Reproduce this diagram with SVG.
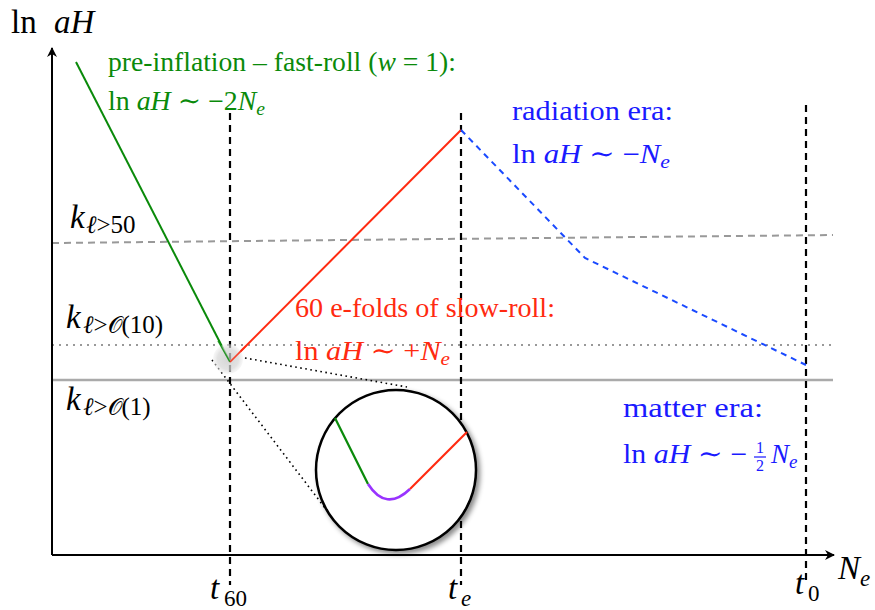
<svg xmlns="http://www.w3.org/2000/svg" width="875" height="610" viewBox="0 0 875 610">
<style>
text{font-family:"Liberation Serif","DejaVu Serif",serif;}
.big{font-size:33px;fill:#000;}
.lbl{font-size:27px;}
.g{fill:#0a8a0a;}
.r{fill:#ff2a10;}
.b{fill:#1a1aff;}
.it{font-style:italic;}
.sim{font-family:"DejaVu Serif",serif;}
.vd{stroke:#000;stroke-width:2.2;stroke-dasharray:7,5;fill:none;}
</style>
<defs>
<marker id="arr" viewBox="0 0 10 10" refX="9" refY="5" markerWidth="10" markerHeight="10" markerUnits="userSpaceOnUse" orient="auto">
<path d="M0,0 L10,5 L0,10 L3,5 Z" fill="#000"/>
</marker>
<radialGradient id="glow">
<stop offset="0" stop-color="#c8c8c8"/>
<stop offset="0.7" stop-color="#d8d8d8"/>
<stop offset="1" stop-color="#eeeeee" stop-opacity="0.6"/>
</radialGradient>
<filter id="shadow" x="-20%" y="-20%" width="150%" height="150%">
<feDropShadow dx="3" dy="3" stdDeviation="2.5" flood-color="#000" flood-opacity="0.45"/>
</filter>
</defs>

<g id="levels">
<line x1="52" y1="243" x2="833" y2="235" stroke="#999" stroke-width="2" stroke-dasharray="7,5"/>
<line x1="52" y1="345" x2="833" y2="345" stroke="#999" stroke-width="2" stroke-dasharray="2,5"/>
<line x1="52" y1="380" x2="833" y2="380" stroke="#aaa" stroke-width="2.5"/>
</g>

<g id="verticals">
<line class="vd" x1="230" y1="113" x2="230" y2="585"/>
<line class="vd" x1="461" y1="113" x2="461" y2="585"/>
<line class="vd" x1="806" y1="105" x2="806" y2="585"/>
</g>

<g id="axes">
<line x1="52" y1="555" x2="52" y2="48" stroke="#000" stroke-width="2" marker-end="url(#arr)"/>
<line x1="52" y1="555" x2="834" y2="555" stroke="#000" stroke-width="2" marker-end="url(#arr)"/>
</g>

<g id="connectors">
<line x1="76" y1="62" x2="230" y2="362" stroke="#0a8a0a" stroke-width="2"/>
<line x1="230" y1="362" x2="461" y2="130" stroke="#ff2a10" stroke-width="2"/>
<polyline points="461,130 585,258 806,365" fill="none" stroke="#1a4aff" stroke-width="2" stroke-dasharray="6,5"/>
<line x1="245" y1="358" x2="407" y2="387" stroke="#000" stroke-width="1.6" stroke-dasharray="1.6,3.5"/>
<line x1="212" y1="360" x2="325" y2="508" stroke="#000" stroke-width="1.6" stroke-dasharray="1.6,3.5"/>
</g>

<g id="zoom-spot">
<circle cx="228" cy="359" r="15" fill="url(#glow)" opacity="0.75"/>
<line x1="218" y1="341" x2="230" y2="362" stroke="#0a8a0a" stroke-width="1.5" opacity="0.8"/>
<line x1="230" y1="362" x2="246" y2="346" stroke="#ff2a10" stroke-width="1.5" opacity="0.8"/>
</g>

<g id="inset">
<circle cx="396" cy="470" r="80" fill="#fff" stroke="#000" stroke-width="2.5" filter="url(#shadow)"/>
<line x1="335" y1="418" x2="368" y2="484" stroke="#0a8a0a" stroke-width="2.2"/>
<path d="M368,484 Q386,512 410,489" fill="none" stroke="#9933ff" stroke-width="2.6"/>
<line x1="410" y1="489" x2="467" y2="432" stroke="#ff2a10" stroke-width="2.2"/>
</g>

<g id="axis-labels">
<text class="big" x="11" y="33">ln<tspan class="it" x="54">aH</tspan></text>
<text class="big it" x="838" y="579">N<tspan dy="7" font-size="23">e</tspan></text>
<text class="big" x="210" y="599"><tspan class="it">t</tspan><tspan x="224" dy="7" font-size="23">60</tspan></text>
<text class="big" x="448" y="599"><tspan class="it">t</tspan><tspan class="it" x="461" dy="7" font-size="23">e</tspan></text>
<text class="big" x="795" y="594"><tspan class="it">t</tspan><tspan x="808" dy="7" font-size="23">0</tspan></text>
</g>

<g id="k-labels">
<text class="big" x="70" y="228"><tspan class="it">k</tspan><tspan x="86" dy="5" font-size="25"><tspan class="it">ℓ</tspan>&gt;50</tspan></text>
<text class="big" x="66" y="328"><tspan class="it">k</tspan><tspan x="83" dy="5" font-size="25"><tspan class="it">ℓ</tspan>&gt;<tspan font-family="DejaVu Sans" font-size="23">𝒪</tspan>(10)</tspan></text>
<text class="big" x="66" y="410"><tspan class="it">k</tspan><tspan x="83" dy="5" font-size="25"><tspan class="it">ℓ</tspan>&gt;<tspan font-family="DejaVu Sans" font-size="23">𝒪</tspan>(1)</tspan></text>
</g>

<g id="preinflation">
<text class="lbl g" x="108" y="71" textLength="348" lengthAdjust="spacingAndGlyphs">pre-inflation – fast-roll (<tspan class="it">w</tspan> = 1):</text>
<text class="lbl g" x="108" y="110" textLength="157" lengthAdjust="spacingAndGlyphs">ln <tspan class="it">aH</tspan> <tspan class="sim">∼</tspan> −2<tspan class="it">N</tspan><tspan class="it" dy="5" font-size="19">e</tspan></text>
</g>

<g id="radiation">
<text class="lbl b" x="512" y="120" textLength="161" lengthAdjust="spacingAndGlyphs">radiation era:</text>
<text class="lbl b" x="512" y="163" textLength="158" lengthAdjust="spacingAndGlyphs">ln <tspan class="it">aH</tspan> <tspan class="sim">∼</tspan> −<tspan class="it">N</tspan><tspan class="it" dy="5" font-size="19">e</tspan></text>
</g>

<g id="slowroll">
<text class="lbl r" x="295" y="317" textLength="260" lengthAdjust="spacingAndGlyphs">60 e-folds of slow-roll:</text>
<text class="lbl r" x="295" y="360" textLength="155" lengthAdjust="spacingAndGlyphs">ln <tspan class="it">aH</tspan> <tspan class="sim">∼</tspan> +<tspan class="it">N</tspan><tspan class="it" dy="5" font-size="19">e</tspan></text>
</g>

<g id="matter">
<text class="lbl b" x="623" y="417" textLength="140" lengthAdjust="spacingAndGlyphs">matter era:</text>
<text class="lbl b" x="623" y="463" textLength="124" lengthAdjust="spacingAndGlyphs">ln <tspan class="it">aH</tspan> <tspan class="sim">∼</tspan> −</text>
<text class="b" x="760" y="453" font-size="16" text-anchor="middle">1</text>
<line x1="754" y1="457" x2="766" y2="457" stroke="#1a1aff" stroke-width="1.2"/>
<text class="b" x="760" y="471" font-size="16" text-anchor="middle">2</text>
<text class="lbl b it" x="771" y="463">N<tspan dy="5" font-size="19">e</tspan></text>
</g>
</svg>
